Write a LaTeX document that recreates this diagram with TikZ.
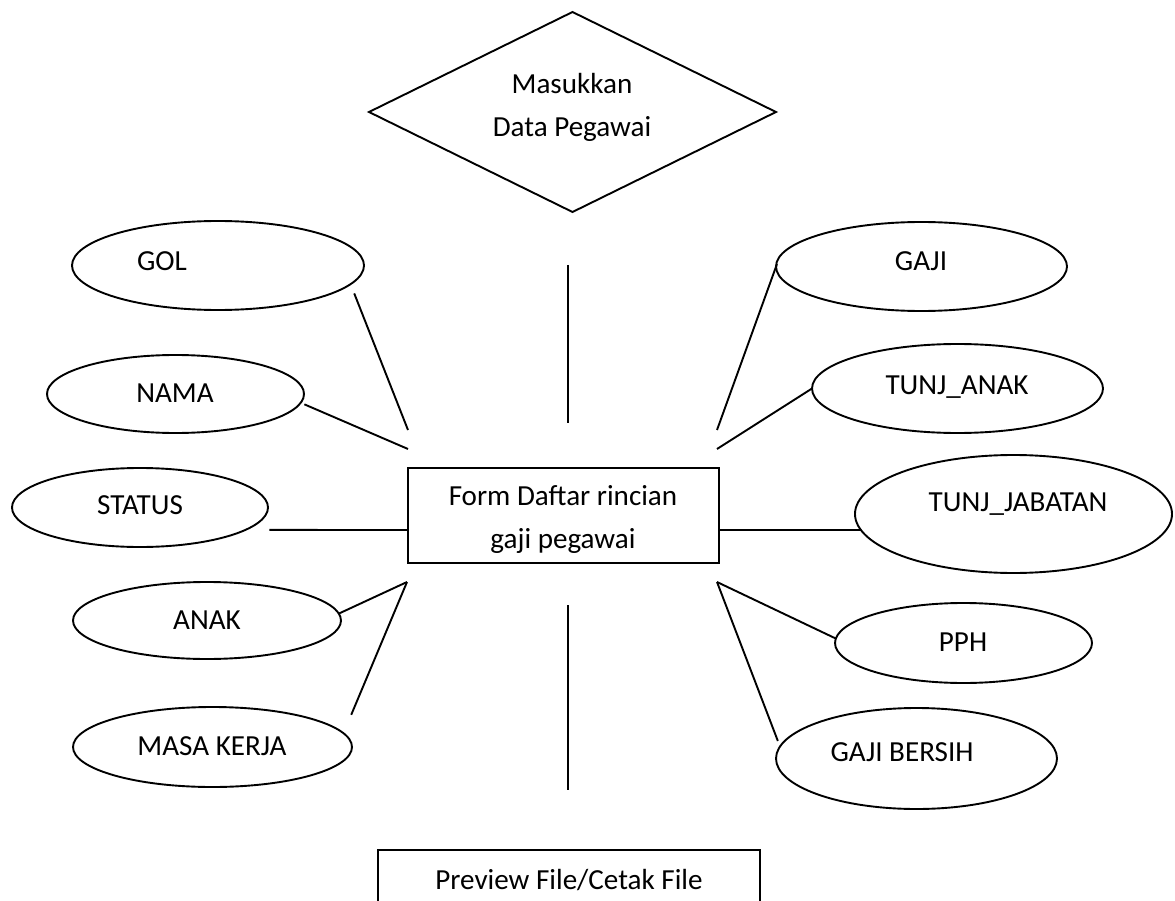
\documentclass[tikz,border=0pt]{standalone}
\usepackage{fontspec}
\setmainfont{Carlito}
\usetikzlibrary{shapes.geometric}
\begin{document}
\begin{tikzpicture}[x=1pt,y=-1pt,line width=1.9pt,
  ent/.style={ellipse,draw,inner sep=0pt,outer sep=0pt},
  box/.style={rectangle,draw,inner sep=0pt,outer sep=0pt},
  dia/.style={diamond,draw,inner sep=0pt,outer sep=0pt},
  txt/.style={inner sep=0pt,anchor=base,font=\fontsize{29.1}{43}\selectfont,align=center},
  link/.style={draw,line width=1.9pt}]
\useasboundingbox (0,0) rectangle (1175,901);
\clip (0,0) rectangle (1175,901);

% decision
\node[dia,minimum width=407pt,minimum height=200pt] (input) at (572.5,112) {};
\node[txt] (inputtxt) at (572,137) {Masukkan\\Data Pegawai};

% central form
\node[box,minimum width=311pt,minimum height=95pt] (form) at (563.5,515.5) {};
\node[txt] (formtxt) at (563,548) {Form Daftar rincian\\gaji pegawai};

% output
\node[box,minimum width=382pt,minimum height=100pt,anchor=north] (prev) at (569,850) {};
\node[txt] (prevtxt) at (569,889) {Preview File/Cetak File};

% left attributes
\node[ent,minimum width=292pt,minimum height=89pt] (gol) at (218,265.5) {};
\node[txt] at (162,271) {GOL};
\node[ent,minimum width=257pt,minimum height=78pt] (nama) at (175.5,394) {};
\node[txt] at (175,402) {NAMA};
\node[ent,minimum width=256pt,minimum height=79pt] (status) at (140,507.5) {};
\node[txt] at (140,514) {STATUS};
\node[ent,minimum width=268pt,minimum height=77pt] (anak) at (207,620.5) {};
\node[txt] at (207,629) {ANAK};
\node[ent,minimum width=279pt,minimum height=80pt] (masa) at (212.5,747) {};
\node[txt] at (212,755) {MASA KERJA};

% right attributes
\node[ent,minimum width=291pt,minimum height=89pt] (gaji) at (921.5,266.5) {};
\node[txt] at (921,271) {GAJI};
\node[ent,minimum width=291pt,minimum height=89pt] (tanak) at (957.5,388.5) {};
\node[txt] at (957,394) {TUNJ\_ANAK};
\node[ent,minimum width=317pt,minimum height=118pt] (tjab) at (1013.5,514) {};
\node[txt] at (1018,511) {TUNJ\_JABATAN};
\node[ent,minimum width=257pt,minimum height=80pt] (pph) at (963.5,643) {};
\node[txt] at (963,651) {PPH};
\node[ent,minimum width=281pt,minimum height=101pt] (gb) at (916.5,758.5) {};
\node[txt] at (902,761) {GAJI BERSIH};

% free ends near the form
\coordinate (vtop1) at (568,265);
\coordinate (vtop2) at (568,423);
\coordinate (vbot1) at (568,605);
\coordinate (vbot2) at (568,790);
\coordinate (lgol) at (408,430);
\coordinate (lnama) at (408,449);
\coordinate (lstat) at (408,530);
\coordinate (llow) at (407,582);
\coordinate (rgaji) at (717,430);
\coordinate (rtanak) at (717,449);
\coordinate (rtjab) at (718,530);
\coordinate (rlow) at (717,582);

% connectors
\draw[link] (vtop1) -- (vtop2);
\draw[link] (vbot1) -- (vbot2);
\draw[link,shorten <=10pt] (gol.-8.75) -- (lgol);
\draw[link,shorten <=4pt] (nama.-4) -- (lnama);
\draw[link,shorten <=24pt] (status.-12.07) -- (lstat);
\draw[link] (anak.3) -- (llow);
\draw[link,shorten <=20pt] (masa.6.5) -- (llow);
\draw[link,shorten <=8pt] (gaji.176.4) -- (rgaji);
\draw[link] (tanak.west) -- (rtanak);
\draw[link] (tjab.186) -- (rtjab);
\draw[link] (pph.178) -- (rlow);
\draw[link,shorten <=6pt] (gb.175.5) -- (rlow);
\end{tikzpicture}
\end{document}
